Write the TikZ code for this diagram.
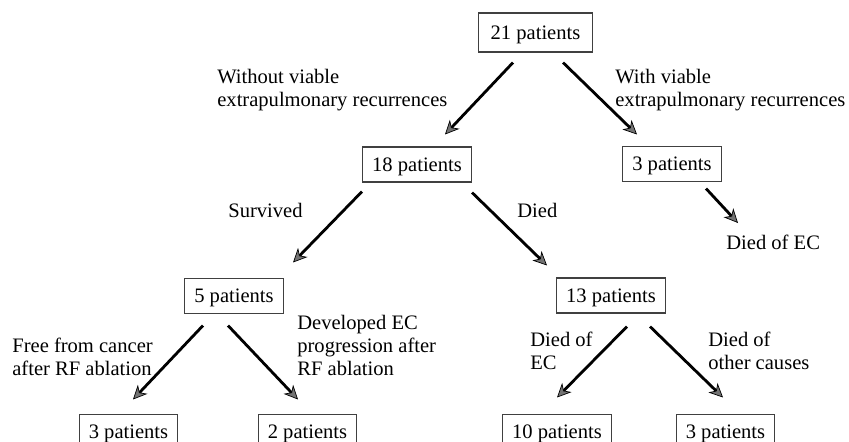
\documentclass[tikz,border=0pt]{standalone}
\usepackage{fontspec}
\setmainfont{Liberation Serif}
\usetikzlibrary{arrows.meta, calc}

\begin{document}
\begin{tikzpicture}[x=0.02cm, y=-0.02cm,
  box/.style={draw=black!75, line width=0.6pt, font=\fontsize{11.7}{13}\selectfont,
    minimum height=0.7cm, inner xsep=5.5pt, text depth=0pt},
  note/.style={anchor=north west, inner sep=0pt, align=left,
    font=\fontsize{11.7}{13}\selectfont},
  arr/.style={line width=1.6pt,
    -{Stealth[length=8pt, width=7.5pt, inset=2.5pt, line width=0.4pt, fill=black!55]}}]

% fix the page size
\useasboundingbox (0,0) rectangle (849,441);

% patient boxes
\node[box, minimum height=0.78cm, inner xsep=7pt] (t21) at (535.5,32.5) {21 patients};
\node[box] (p18) at (417,164.5) {18 patients};
\node[box] (r3) at (672,164) {3 patients};
\node[box] (p5) at (234,296) {5 patients};
\node[box] (p13) at (611,295.5) {13 patients};
\node[box] (b3) at (128.5,432) {3 patients};
\node[box] (b2) at (307.5,432) {2 patients};
\node[box] (b10) at (557,432) {10 patients};
\node[box] (b3r) at (725.5,432) {3 patients};

% branch labels
\node[note] (wo) at (217,69) {Without viable\\extrapulmonary recurrences};
\node[note] (wi) at (615,69) {With viable\\extrapulmonary recurrences};
\node[note] (sv) at (228,203) {Survived};
\node[note] (dd) at (517,203) {Died};
\node[note] (dec) at (726,235) {Died of EC};
\node[note] (fr) at (12,338) {Free from cancer\\after RF ablation};
\node[note] (dv) at (297,315) {Developed EC\\progression after\\RF ablation};
\node[note] (dc) at (530,332) {Died of\\EC};
\node[note] (oc) at (708,332) {Died of\\other causes};

% arrows
\draw[arr] ($(t21.south)+(-22.5,10)$) -- ($(p18.north)+(28,-12)$);
\draw[arr] ($(t21.south)+(27.5,10)$) -- ($(r3.north)+(-35,-11.5)$);
\draw[arr] ($(p18.south)+(-55,9)$) -- ($(p5.north)+(59,-15.5)$);
\draw[arr] ($(p18.south)+(55,10)$) -- ($(p13.north)+(-64,-12)$);
\draw[arr] ($(r3.south)+(34,6.5)$) -- ($(dec.north west)+(12,-12)$);
\draw[arr] ($(p5.south)+(-31,11.5)$) -- ($(b3.north)+(4.5,-14.5)$);
\draw[arr] ($(p5.south)+(-6,11.5)$) -- ($(b2.north)+(-9.5,-14.5)$);
\draw[arr] ($(p13.south)+(16,13)$) -- ($(b10.north)+(0,-16.5)$);
\draw[arr] ($(p13.south)+(39,13)$) -- ($(b3r.north)+(-2.5,-16.5)$);

\end{tikzpicture}
\end{document}
